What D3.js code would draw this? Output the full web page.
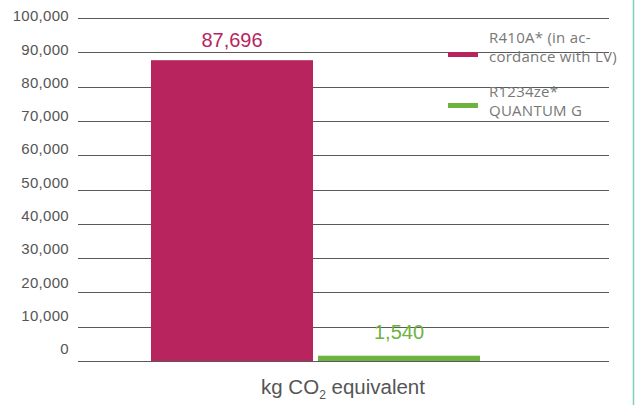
<!DOCTYPE html>
<html>
<head>
<meta charset="utf-8">
<script src="https://cdn.jsdelivr.net/npm/d3@7"></script>
<style>
  html, body { margin: 0; padding: 0; background: #fff; }
  svg { display: block; }
</style>
</head>
<body>
<svg id="chart" width="643" height="405"></svg>
<script>
// Refrigerant emissions comparison (kg CO2 equivalent)
const categories = ["R410A", "R1234ze"];
const values = [87696, 1540];
const valueLabels = ["87,696", "1,540"];
const colors = ["#b8245e", "#6db33f"];
const legendLines = [["R410A* (in ac-", "cordance with LV)"], ["R1234ze*", "QUANTUM G"]];
const tickValues = [0, 10000, 20000, 30000, 40000, 50000, 60000, 70000, 80000, 90000, 100000];

const svg = d3.select("#chart");

const y = d3.scaleLinear().domain([0, 100000]).range([361, 18]);
// tick labels sit slightly above their grid lines, drifting further up toward the bottom
const yLabel = d3.scaleLinear().domain([0, 100000]).range([349, 16]);
const x = d3.scaleBand().domain(categories).range([151, 480]).paddingInner(0.03).paddingOuter(0);

// right-hand accent rule
svg.append("line")
  .attr("x1", 633.5).attr("x2", 633.5).attr("y1", 0).attr("y2", 405)
  .attr("stroke", "#7fcdbb").attr("stroke-width", 1.5);

// grid lines
svg.append("g").selectAll("line").data(tickValues).join("line")
  .attr("x1", 78).attr("x2", 609)
  .attr("y1", d => Math.round(y(d)) + 0.5).attr("y2", d => Math.round(y(d)) + 0.5)
  .attr("stroke", "#5a5a5a").attr("stroke-width", 1.2);

// tick labels
const fmt = d3.format(",");
svg.append("g").selectAll("text").data(tickValues).join("text")
  .attr("x", 69).attr("y", d => yLabel(d))
  .attr("dy", "0.35em")
  .attr("text-anchor", "end")
  .attr("font-family", "Liberation Sans, Arial, sans-serif")
  .attr("font-size", 15)
  .attr("letter-spacing", 0.3)
  .attr("fill", "#555")
  .text(d => fmt(d));

// bars
svg.append("g").selectAll("rect").data(values).join("rect")
  .attr("x", (d, i) => x(categories[i]))
  .attr("width", x.bandwidth())
  .attr("y", d => y(d))
  .attr("height", d => y(0) - y(d))
  .attr("fill", (d, i) => colors[i]);

// value labels
svg.append("g").selectAll("text").data(values).join("text")
  .attr("x", (d, i) => x(categories[i]) + x.bandwidth() / 2)
  .attr("y", (d, i) => i === 0 ? 46.5 : 339)
  .attr("text-anchor", "middle")
  .attr("font-family", "Liberation Sans, Arial, sans-serif")
  .attr("font-size", 20)
  .attr("fill", (d, i) => colors[i])
  .text((d, i) => valueLabels[i]);

// legend: swatch plus a two-line label per series
const legend = svg.append("g");
const legendY = [52, 103];
const legendTextY = [43, 97];
categories.forEach((c, i) => {
  legend.append("rect")
    .attr("x", 448).attr("y", legendY[i]).attr("width", 30).attr("height", 5)
    .attr("fill", colors[i]);
  const t = legend.append("text")
    .attr("x", 489).attr("y", legendTextY[i])
    .attr("font-family", "Open Sans, sans-serif")
    .attr("font-size", 15)
    .attr("letter-spacing", 0.25)
    .attr("fill", "#777");
  legendLines[i].forEach((line, j) => {
    t.append("tspan")
      .attr("x", 489)
      .attr("dy", j === 0 ? 0 : 18.5)
      .text(line);
  });
});

// axis title with subscript
const title = svg.append("text")
  .attr("x", 343).attr("y", 394)
  .attr("text-anchor", "middle")
  .attr("font-family", "Liberation Sans, Arial, sans-serif")
  .attr("font-size", 20.5)
  .attr("fill", "#555");
title.append("tspan").text("kg CO");
title.append("tspan").attr("font-size", 12).attr("dy", 5).text("2");
title.append("tspan").attr("dy", -5).text(" equivalent");
</script>
</body>
</html>
